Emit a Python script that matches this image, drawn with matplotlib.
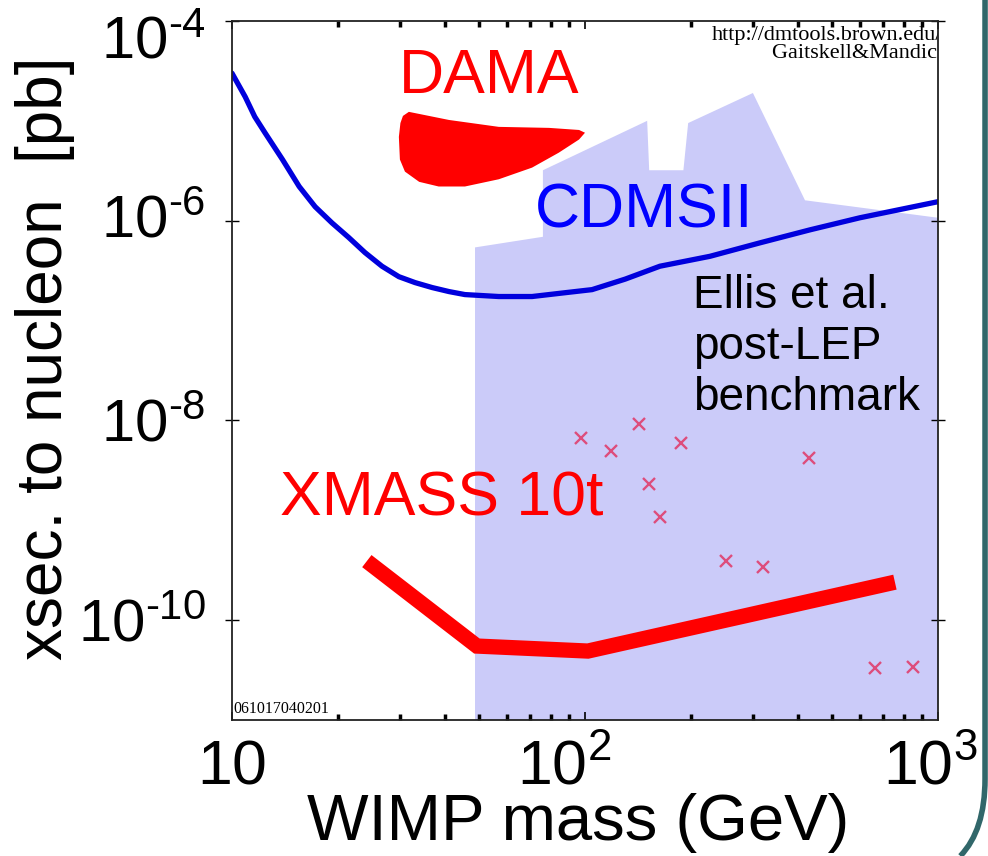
import matplotlib
matplotlib.use('Agg')
import matplotlib.pyplot as plt
from matplotlib.path import Path
from matplotlib.patches import PathPatch
from matplotlib.ticker import LogLocator, NullFormatter, NullLocator
from matplotlib.transforms import ScaledTranslation

plt.rcParams['font.family'] = ['Liberation Sans', 'DejaVu Sans']
plt.rcParams['mathtext.fontset'] = 'custom'
plt.rcParams['mathtext.rm'] = 'Liberation Sans'
plt.rcParams['mathtext.it'] = 'Liberation Sans:italic'
plt.rcParams['mathtext.bf'] = 'Liberation Sans:bold'

# CDMSII limit curve
cdms_mass = [10, 10.9, 11.6, 12.4, 13.9, 15.5, 17.2, 19.2, 21.4, 23.8, 26.6,
             29.7, 33.0, 36.9, 41.2, 45.7, 57.0, 70.8, 87.8, 104.7, 130, 163,
             226, 313, 434, 601, 1000]
cdms_xsec = [3.0e-5, 1.74e-5, 1.1e-5, 7.6e-6, 4.1e-6, 2.2e-6, 1.38e-6, 9.5e-7,
             6.8e-7, 4.8e-7, 3.5e-7, 2.75e-7, 2.4e-7, 2.14e-7, 1.95e-7, 1.82e-7,
             1.74e-7, 1.74e-7, 1.9e-7, 2.04e-7, 2.6e-7, 3.5e-7, 4.4e-7, 6.0e-7,
             8.1e-7, 1.07e-6, 1.55e-6]

# DAMA allowed region (outline)
dama_mass = [30.5, 31.7, 41.2, 57.0, 79.1, 96.2, 100, 96.2, 84.3, 70.8, 57.0,
             45.7, 38.5, 33.9, 30.9, 29.9, 29.7, 30.0]
dama_xsec = [1.12e-5, 1.23e-5, 1.02e-5, 8.7e-6, 8.5e-6, 8.1e-6, 7.6e-6, 6.5e-6,
             4.8e-6, 3.4e-6, 2.6e-6, 2.2e-6, 2.2e-6, 2.45e-6, 3.1e-6, 4.1e-6,
             6.9e-6, 9.5e-6]

# Ellis et al. post-LEP shaded region
ellis_mass = [48.8, 48.8, 76.0, 76.0, 150, 152, 190, 196, 299, 420, 1000, 1000]
ellis_xsec = [1e-11, 5.4e-7, 6.9e-7, 3.2e-6, 1.0e-5, 3.2e-6, 3.2e-6, 9.5e-6,
              1.9e-5, 1.6e-6, 1.07e-6, 1e-11]

# benchmark points
bench_mass = [97.4, 118.6, 142.3, 187, 151.7, 163, 431, 250.6, 319, 663, 849]
bench_xsec = [6.6e-9, 4.9e-9, 9.1e-9, 5.9e-9, 2.3e-9, 1.07e-9, 4.2e-9,
              3.9e-10, 3.4e-10, 3.3e-11, 3.4e-11]

# XMASS 10t sensitivity
xmass_mass = [24.1, 49.4, 101.9, 755]
xmass_xsec = [3.9e-10, 5.5e-11, 4.9e-11, 2.4e-10]

xticks = [10, 100, 1000]
xticklabels = [r'$\mathregular{10}$', r'$\mathregular{10^2}$', r'$\mathregular{10^3}$']
yticks = [1e-10, 1e-8, 1e-6, 1e-4]
yticklabels = ['$\\mathregular{10^{\u201010}}$',
               '$\\mathregular{10^{\u20108}}$',
               '$\\mathregular{10^{\u20106}}$',
               '$\\mathregular{10^{\u20104}}$']

fig = plt.figure(figsize=(9.88, 8.56), dpi=100)
ax = fig.add_axes([0.2348, 0.1589, 0.7146, 0.8166])
ax.set_xscale('log')
ax.set_yscale('log')
ax.set_xlim(10, 1000)
ax.set_ylim(1e-11, 1e-4)

ax.fill(ellis_mass, ellis_xsec, color='#cbcbf9', lw=0, zorder=1)
ax.fill(dama_mass, dama_xsec, color='#ff0000', lw=0, zorder=2)
ax.plot(cdms_mass, cdms_xsec, color='#0000dd', lw=3.8, zorder=3,
        solid_capstyle='round', solid_joinstyle='round')
ax.plot(bench_mass, bench_xsec, ls='none', marker='x', ms=9, mew=1.7,
        color='#dd4d7c', zorder=4)
ax.plot(xmass_mass, xmass_xsec, color='#ff0000', lw=11, zorder=5,
        solid_capstyle='butt', solid_joinstyle='miter')

ax.text(0.364, 0.920, 'DAMA', color='#ff0000', fontsize=45,
        ha='center', va='center', transform=ax.transAxes)
ax.text(0.584, 0.728, 'CDMSII', color='#0000ff', fontsize=45,
        ha='center', va='center', transform=ax.transAxes)
ax.text(0.297, 0.316, 'XMASS 10t', color='#ff0000', fontsize=45,
        ha='center', va='center', transform=ax.transAxes)
ax.text(0.653, 0.638, 'Ellis et al.\npost-LEP\nbenchmark', color='black',
        fontsize=33, ha='left', va='top', linespacing=1.2,
        transform=ax.transAxes)
serif = ['Liberation Serif', 'DejaVu Serif']
ax.text(1.006, 0.993, 'http://dmtools.brown.edu/\nGaitskell&Mandic ', fontsize=16,
        family=serif, ha='right', va='top', multialignment='right',
        linespacing=0.95, transform=ax.transAxes, clip_on=True)
ax.text(0.002, 0.004, '061017040201', fontsize=11.5,
        family=serif, ha='left', va='bottom', transform=ax.transAxes)

# ticks
ax.set_xticks(xticks)
ax.set_xticklabels(xticklabels, fontsize=45)
ax.xaxis.set_minor_locator(LogLocator(base=10, subs=range(2, 10)))
ax.xaxis.set_minor_formatter(NullFormatter())
ax.tick_params(axis='x', which='major', direction='in', length=6, width=1.2,
               top=True, bottom=True, pad=46)
ax.tick_params(axis='x', which='minor', direction='in', length=4, width=2.5,
               top=True, bottom=True)
ax.set_yticks(yticks)
ax.set_yticklabels(yticklabels, fontsize=43)
ax.yaxis.set_minor_locator(NullLocator())
ax.tick_params(axis='y', which='major', direction='inout', length=10, width=1,
               left=True, right=True, pad=14)

for lbl in ax.get_xticklabels():
    lbl.set_va('baseline')
x_shift = [0.0, -0.21, -0.08]
for lbl, dx in zip(ax.get_xticklabels(), x_shift):
    lbl.set_transform(lbl.get_transform() + ScaledTranslation(dx, 0, fig.dpi_scale_trans))
y_shift = [0.0, 0.0, 0.05, -0.17]
for lbl, dy in zip(ax.get_yticklabels(), y_shift):
    lbl.set_transform(lbl.get_transform() + ScaledTranslation(0, dy, fig.dpi_scale_trans))

for sp in ax.spines.values():
    sp.set_linewidth(1.3)
    sp.set_color('#222222')
    sp.set_zorder(6)

fig.text(578 / 988, 1 - 823 / 856, 'WIMP mass (GeV)', fontsize=47,
         ha='center', va='center')
fig.text(45 / 988, 1 - 358 / 856, 'xsec. to nucleon  [pb]', fontsize=46,
         rotation=90, ha='center', va='center')

# slide border on the right
border = Path([(0.997, 1.0), (0.997, 0.09), (0.997, 0.03), (0.972, 0.0)],
              [Path.MOVETO, Path.LINETO, Path.CURVE3, Path.CURVE3])
fig.patches.append(PathPatch(border, transform=fig.transFigure, fill=False,
                             edgecolor='#31676a', lw=4))

fig.savefig('out.png', dpi=100)
